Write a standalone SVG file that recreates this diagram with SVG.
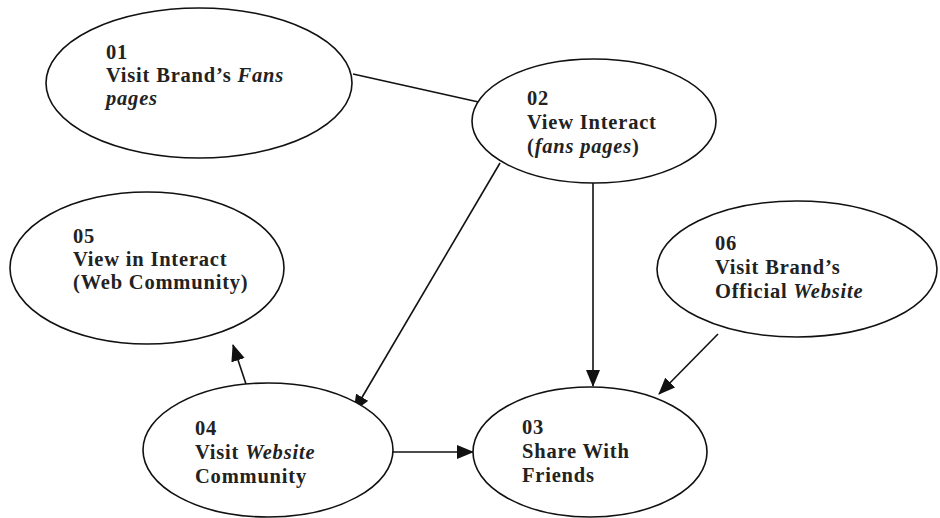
<svg xmlns="http://www.w3.org/2000/svg" width="940" height="518" viewBox="0 0 940 518">
<defs>
<marker id="ah" markerWidth="17" markerHeight="14" refX="16" refY="7" orient="auto" markerUnits="userSpaceOnUse">
<path d="M0,0 L17,7 L0,14 Z" fill="#111"/>
</marker>
<style>
.n{fill:#fff;stroke:#111;stroke-width:1.6}
.t{font-family:"Liberation Serif","Times New Roman",serif;font-weight:bold;font-size:20.5px;letter-spacing:0.8px;fill:#222}
.i{font-style:italic}
.c{stroke:#111;stroke-width:1.6;fill:none}
</style>
</defs>
<rect width="940" height="518" fill="#fff"/>
<g id="connectors">
<line class="c" x1="353" y1="74" x2="483" y2="103"/>
<line class="c" x1="500" y1="163" x2="354" y2="411" marker-end="url(#ah)"/>
<line class="c" x1="593" y1="183" x2="593" y2="386" marker-end="url(#ah)"/>
<line class="c" x1="718" y1="334" x2="659" y2="394" marker-end="url(#ah)"/>
<line class="c" x1="393" y1="452" x2="473" y2="452" marker-end="url(#ah)"/>
<line class="c" x1="246" y1="384" x2="233" y2="345" marker-end="url(#ah)"/>
</g>
<g id="n01">
<ellipse class="n" cx="199" cy="83" rx="153" ry="75"/>
<text class="t" x="106" y="59">01</text>
<text class="t" x="106" y="82">Visit Brand’s <tspan class="i">Fans</tspan></text>
<text class="t" x="106" y="105"><tspan class="i">pages</tspan></text>
</g>
<g id="n02">
<ellipse class="n" cx="594" cy="121" rx="122" ry="62"/>
<text class="t" x="527" y="105">02</text>
<text class="t" x="527" y="129">View Interact</text>
<text class="t" x="527" y="153">(<tspan class="i">fans pages</tspan>)</text>
</g>
<g id="n05">
<ellipse class="n" cx="147" cy="268" rx="137" ry="76"/>
<text class="t" x="73" y="243">05</text>
<text class="t" x="73" y="266">View in Interact</text>
<text class="t" x="73" y="289">(Web Community)</text>
</g>
<g id="n06">
<ellipse class="n" cx="797" cy="269" rx="140" ry="68"/>
<text class="t" x="715" y="250">06</text>
<text class="t" x="715" y="274">Visit Brand’s</text>
<text class="t" x="715" y="298">Official <tspan class="i">Website</tspan></text>
</g>
<g id="n04">
<ellipse class="n" cx="268" cy="450" rx="125" ry="67"/>
<text class="t" x="195" y="435">04</text>
<text class="t" x="195" y="459">Visit <tspan class="i">Website</tspan></text>
<text class="t" x="195" y="483">Community</text>
</g>
<g id="n03">
<ellipse class="n" cx="590" cy="452" rx="117" ry="65"/>
<text class="t" x="522" y="434">03</text>
<text class="t" x="522" y="458">Share With</text>
<text class="t" x="522" y="482">Friends</text>
</g>
</svg>
